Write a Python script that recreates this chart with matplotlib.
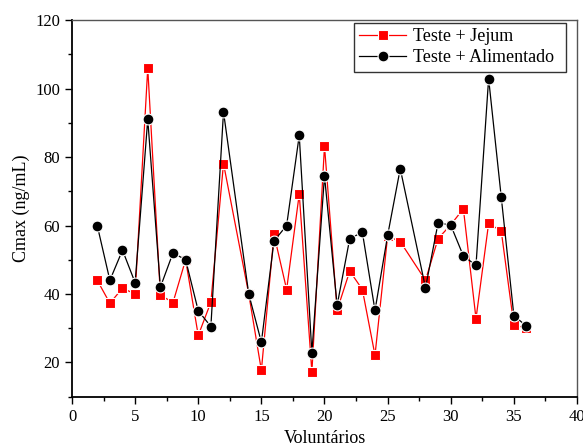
import matplotlib
matplotlib.use("Agg")
import matplotlib.pyplot as plt
from matplotlib.ticker import MultipleLocator

# volunteers (1, 13 and 27 have no measurement)
voluntarios = [2, 3, 4, 5, 6, 7, 8, 9, 10, 11, 12, 14, 15, 16, 17, 18, 19,
               20, 21, 22, 23, 24, 25, 26, 28, 29, 30, 31, 32, 33, 34, 35, 36]

# Cmax, fasting
jejum = [44.0, 37.3, 41.7, 40.0, 106.0, 39.7, 37.5, 50.0, 27.9, 37.6, 78.1,
         40.0, 17.7, 57.4, 41.3, 69.2, 17.2, 83.2, 35.3, 46.7, 41.3, 22.1,
         56.9, 55.3, 44.0, 56.2, 60.2, 64.9, 32.8, 60.6, 58.4, 30.9, 30.1]

# Cmax, fed
alimentado = [60.0, 44.0, 52.8, 43.3, 91.0, 42.0, 52.0, 50.0, 35.1, 30.5,
              93.2, 40.0, 25.9, 55.5, 60.0, 86.3, 22.8, 74.5, 36.7, 56.2,
              58.0, 35.2, 57.1, 76.6, 41.8, 60.8, 60.1, 51.1, 48.4, 102.9,
              68.3, 33.7, 30.6]

plt.rcParams['font.family'] = ['Liberation Serif', 'DejaVu Serif']

fig = plt.figure(figsize=(5.83, 4.46), dpi=100)
ax = fig.add_axes([0.1235, 0.1105, 0.8662, 0.8445])

# white marker edges leave a small gap where the line meets the marker
ax.plot(voluntarios, jejum, color='red', lw=0.9, marker='s', ms=7.0,
        mfc='red', mec='white', mew=0.8, label='Teste + Jejum', zorder=2)
ax.plot(voluntarios, alimentado, color='black', lw=0.9, marker='o', ms=7.8,
        mfc='black', mec='white', mew=0.8, label='Teste + Alimentado', zorder=3)

ax.set_xlim(0, 40)
ax.set_ylim(10, 120)
ax.xaxis.set_major_locator(MultipleLocator(5))
ax.xaxis.set_minor_locator(MultipleLocator(2.5))
ax.yaxis.set_major_locator(MultipleLocator(20))
ax.yaxis.set_minor_locator(MultipleLocator(10))
ax.tick_params(which='major', direction='out', length=5, width=1,
               labelsize=12, top=False, right=False)
ax.tick_params(which='minor', direction='out', length=3, width=1,
               top=False, right=False)

for side in ('left', 'bottom'):
    ax.spines[side].set_linewidth(1.3)
for side in ('top', 'right'):
    ax.spines[side].set_color('#555555')
    ax.spines[side].set_linewidth(1.0)

ax.set_xlabel('Voluntários', fontsize=13, labelpad=4)
ax.set_ylabel('Cmax (ng/mL)', fontsize=13, labelpad=4)

leg = ax.legend(loc='upper right', bbox_to_anchor=(0.558, 0.5, 0.420, 0.492),
                mode='expand', fontsize=13, frameon=True, fancybox=False,
                edgecolor='black', handlelength=2.6, borderpad=0.3,
                labelspacing=0.2, borderaxespad=0.0, handletextpad=0.4)
leg.get_frame().set_linewidth(1.0)

fig.savefig('out.png', dpi=100)
